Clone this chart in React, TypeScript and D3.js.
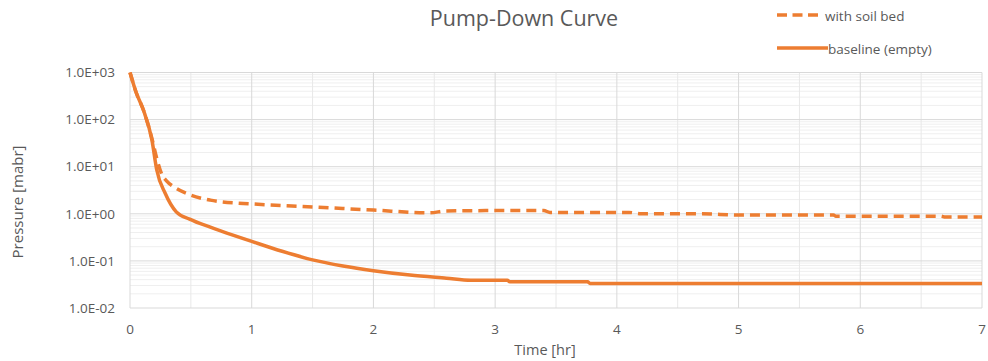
import React from 'react';
import * as d3 from 'd3';

// values (time in hr, pressure in mbar)
const timeBaseline = [0, 0.05, 0.11, 0.18, 0.22, 0.29, 0.38, 0.49, 0.66, 0.75, 1, 1.25, 1.5, 1.75, 2, 2.3, 2.6, 2.8, 3.1, 3.12, 3.76, 3.78, 7];
const pressureBaseline = [1000, 380, 160, 37, 8.5, 2.7, 1.1, 0.77, 0.52, 0.43, 0.26, 0.16, 0.105, 0.078, 0.062, 0.05, 0.043, 0.039, 0.039, 0.036, 0.036, 0.033, 0.033];

const timeSoil = [0, 0.05, 0.11, 0.18, 0.22, 0.26, 0.3, 0.37, 0.48, 0.66, 0.93, 1.0, 1.5, 2.0, 2.46, 2.6, 3.0, 3.4, 3.45, 4.1, 4.2, 4.7, 5.0, 5.78, 5.8, 6.66, 6.7, 7];
const pressureSoil = [1000, 380, 160, 40, 15, 7, 5, 3.6, 2.6, 1.95, 1.66, 1.62, 1.4, 1.2, 1.05, 1.15, 1.17, 1.17, 1.07, 1.07, 1.0, 1.0, 0.94, 0.94, 0.89, 0.89, 0.85, 0.85];

const xTicks = [0, 1, 2, 3, 4, 5, 6, 7];
const yDecades = [1e3, 1e2, 1e1, 1e0, 1e-1, 1e-2];
const yTickLabels = ['1.0E+03', '1.0E+02', '1.0E+01', '1.0E+00', '1.0E-01', '1.0E-02'];

const seriesNames = ['with soil bed', 'baseline (empty)'];

const ORANGE = '#ED7D31';
const TEXT = '#595959';
const FONT = '"Open Sans", sans-serif';

const App = () => {
  const width = 988;
  const height = 361;
  const plot = { left: 130, right: 982, top: 72.5, bottom: 308 };

  const x = d3.scaleLinear().domain([0, 7]).range([plot.left, plot.right]);
  const y = d3.scaleLog().domain([1e-2, 1e3]).range([plot.bottom, plot.top]);

  const line = d3.line<[number, number]>()
    .x(d => x(d[0]))
    .y(d => y(d[1]))
    .curve(d3.curveMonotoneX);

  const baseline = timeBaseline.map((t, i) => [t, pressureBaseline[i]] as [number, number]);
  const soil = timeSoil.map((t, i) => [t, pressureSoil[i]] as [number, number]);

  // minor gridlines: 2..9 in each decade, half hours
  const minorY: number[] = [];
  yDecades.slice(1).forEach(d => {
    for (let k = 2; k <= 9; k++) minorY.push(d * k);
  });
  const minorX = d3.range(0.5, 7, 1);

  return (
    <svg width={width} height={height} style={{ position: 'absolute', left: 0, top: 0, background: '#fff' }}>
      <rect width={width} height={height} fill="#fff" />

      {/* gridlines */}
      {minorY.map((v, i) => (
        <line key={'my' + i} x1={plot.left} x2={plot.right} y1={y(v)} y2={y(v)} stroke="#efefef" strokeWidth={1} />
      ))}
      {minorX.map((v, i) => (
        <line key={'mx' + i} x1={x(v)} x2={x(v)} y1={plot.top} y2={plot.bottom} stroke="#e8e8e8" strokeWidth={1} />
      ))}
      {yDecades.map((v, i) => (
        <line key={'gy' + i} x1={plot.left} x2={plot.right} y1={y(v)} y2={y(v)} stroke="#d9d9d9" strokeWidth={1} />
      ))}
      {xTicks.map((v, i) => (
        <line key={'gx' + i} x1={x(v)} x2={x(v)} y1={plot.top} y2={plot.bottom} stroke="#d9d9d9" strokeWidth={1} />
      ))}

      {/* axis tick labels */}
      {yDecades.map((v, i) => (
        <text key={'yl' + i} x={115} y={y(v)} dy="0.35em" textAnchor="end" fontFamily={FONT} fontSize={13.5} fill={TEXT}>
          {yTickLabels[i]}
        </text>
      ))}
      {xTicks.map((v, i) => (
        <text key={'xl' + i} x={x(v)} y={329} dy="0.35em" textAnchor="middle" fontFamily={FONT} fontSize={13.5} fill={TEXT}>
          {v}
        </text>
      ))}

      {/* axis titles */}
      <text x={545} y={350} dy="0.35em" textAnchor="middle" fontFamily={FONT} fontSize={14.5} fill={TEXT}>Time [hr]</text>
      <text transform="translate(18,202) rotate(-90)" dy="0.35em" textAnchor="middle" fontFamily={FONT} fontSize={15} fill={TEXT}>Pressure [mabr]</text>

      {/* title */}
      <text x={524} y={18} dy="0.35em" textAnchor="middle" fontFamily={FONT} fontSize={21.5} fill={TEXT}>Pump-Down Curve</text>

      {/* series */}
      <path d={line(baseline) || ''} fill="none" stroke={ORANGE} strokeWidth={3.5} strokeLinejoin="round" />
      <path d={line(soil) || ''} fill="none" stroke={ORANGE} strokeWidth={3.5} strokeDasharray="10,6" strokeLinejoin="round" />

      {/* legend */}
      <line x1={777} x2={818} y1={15} y2={15} stroke={ORANGE} strokeWidth={3.5} strokeDasharray="10,5.5" />
      <text x={825} y={16} dy="0.35em" fontFamily={FONT} fontSize={13.5} fill={TEXT}>{seriesNames[0]}</text>
      <line x1={777} x2={828} y1={48} y2={48} stroke={ORANGE} strokeWidth={3.5} />
      <text x={828} y={49} dy="0.35em" fontFamily={FONT} fontSize={13.5} fill={TEXT}>{seriesNames[1]}</text>
    </svg>
  );
};

export default App;
